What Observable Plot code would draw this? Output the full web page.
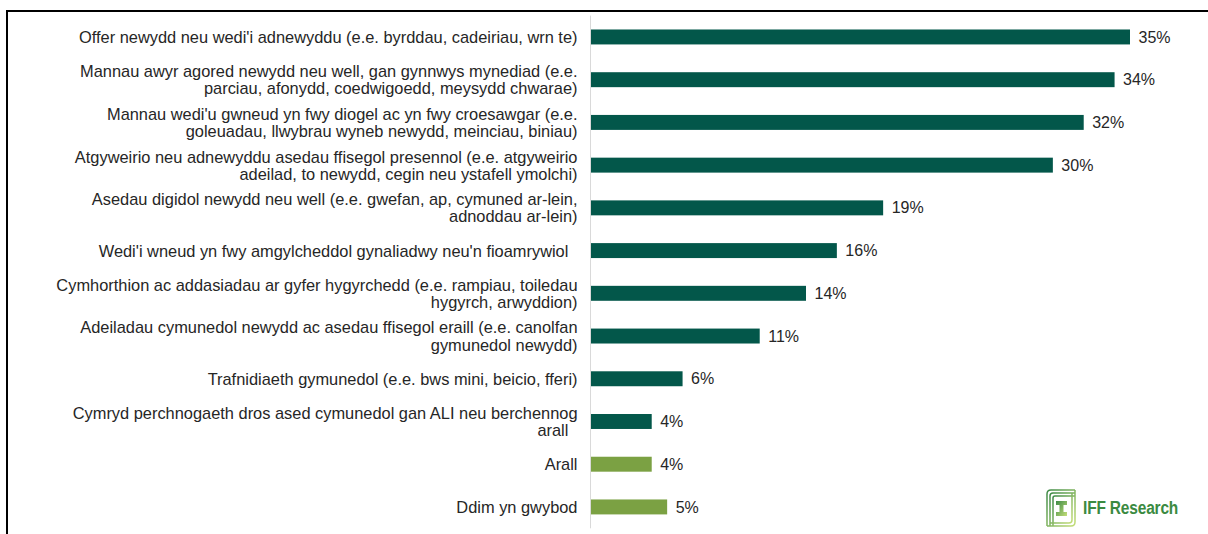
<!DOCTYPE html>
<html><head><meta charset="utf-8">
<script src="https://cdn.jsdelivr.net/npm/d3@7"></script>
<script src="https://cdn.jsdelivr.net/npm/@observablehq/plot@0.6"></script>
<style>
body{margin:0;background:#fff;font-family:"Liberation Sans",Arial,sans-serif;}
#wrap{position:relative;width:1208px;height:534px;overflow:hidden;background:#fff;}
#frame{position:absolute;left:6px;top:10px;width:1300px;height:600px;border-top:2px solid #000;border-left:2px solid #000;}
#chart{position:absolute;left:0;top:0;}
#logo{position:absolute;left:1045px;top:488px;display:flex;align-items:center;}
#logo span{display:inline-block;font-family:"Liberation Sans",Arial,sans-serif;font-size:18px;font-weight:bold;color:#3b8a41;margin-left:6px;transform:scaleX(0.86);transform-origin:left center;letter-spacing:-0.2px;}
</style></head>
<body>
<div id="wrap">
<div id="frame"></div>
<div id="chart"></div>
<div id="logo">
<svg width="32" height="40" viewBox="0 0 32 40">
<defs><linearGradient id="g" x1="0" y1="0" x2="1" y2="1"><stop offset="0" stop-color="#3d8a47"/><stop offset="1" stop-color="#c4de78"/></linearGradient></defs>
<g fill="none" stroke="url(#g)" stroke-width="1.5">
<path d="M2 38 V6 Q2 2 6 2 H30"/>
<path d="M5 38 V8 Q5 5 8 5 H30"/>
<path d="M8 38 V10 Q8 8 10 8 H30"/>
<path d="M30 2 V34 Q30 38 26 38 H2"/>
<path d="M27 5 V32 Q27 35 24 35 H5"/>
</g>
<path d="M11 13 H22 V17 H18.5 V24 H22 V28 H11 V24 H14.5 V17 H11 Z" fill="url(#g)"/>
</svg>
<span>IFF Research</span>
</div>
</div>
<script>
const categories = [
  "Offer newydd neu wedi'i adnewyddu (e.e. byrddau, cadeiriau, wrn te)",
  "Mannau awyr agored newydd neu well, gan gynnwys mynediad (e.e.\nparciau, afonydd, coedwigoedd, meysydd chwarae)",
  "Mannau wedi'u gwneud yn fwy diogel ac yn fwy croesawgar (e.e.\ngoleuadau, llwybrau wyneb newydd, meinciau, biniau)",
  "Atgyweirio neu adnewyddu asedau ffisegol presennol (e.e. atgyweirio\nadeilad, to newydd, cegin neu ystafell ymolchi)",
  "Asedau digidol newydd neu well (e.e. gwefan, ap, cymuned ar-lein,\nadnoddau ar-lein)",
  "Wedi'i wneud yn fwy amgylcheddol gynaliadwy neu'n fioamrywiol\u00a0\u00a0",
  "Cymhorthion ac addasiadau ar gyfer hygyrchedd (e.e. rampiau, toiledau\nhygyrch, arwyddion)",
  "Adeiladau cymunedol newydd ac asedau ffisegol eraill (e.e. canolfan\ngymunedol newydd)",
  "Trafnidiaeth gymunedol (e.e. bws mini, beicio, fferi)",
  "Cymryd perchnogaeth dros ased cymunedol gan ALI neu berchennog\narall\u00a0\u00a0",
  "Arall",
  "Ddim yn gwybod"
];
const values = [35, 34, 32, 30, 19, 16, 14, 11, 6, 4, 4, 5];
const groups = ["main","main","main","main","main","main","main","main","main","main","other","other"];

const data = categories.map((c, i) => ({category: c, value: values[i], group: groups[i]}));

const plot = Plot.plot({
  width: 1208,
  height: 534,
  marginLeft: 590,
  marginRight: 78,
  marginTop: 15.6,
  marginBottom: 5.7,
  x: {domain: [0, 35], axis: null},
  y: {domain: categories, paddingInner: 0.65, paddingOuter: 0.325, round: false, axis: null},
  color: {domain: ["main", "other"], range: ["#03574a", "#7ba143"]},
  style: {fontFamily: "'Liberation Sans', Arial, sans-serif", fontSize: "16px", background: "transparent", color: "#262626"},
  marks: [
    Plot.barX(data, {x: "value", y: "category", fill: "group"}),
    Plot.ruleX([0], {stroke: "#d9d9d9", strokeWidth: 1}),
    Plot.axisY({tickSize: 0, tickPadding: 13, fontSize: 16.4, fill: "#262626", lineHeight: 1.04, label: null}),
    Plot.text(data, {x: "value", y: "category", text: d => d.value + "%", dx: 8, textAnchor: "start", fill: "#262626", fontSize: 16})
  ]
});
document.getElementById("chart").appendChild(plot);
</script>
</body></html>
